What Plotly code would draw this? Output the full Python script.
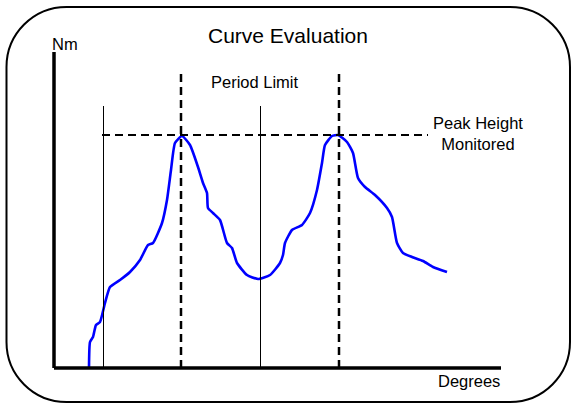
import plotly.graph_objects as go

# ---- data (degrees, Nm) ----
degrees = [35, 36, 39, 42, 46, 51, 56, 66, 76, 86, 94, 99, 108, 113, 117, 121, 128,
           136, 144, 149, 153, 154, 159, 166, 173, 178, 183, 193, 204, 216, 226, 229,
           231, 238, 248, 256, 263, 268, 271, 278, 284, 293, 299, 304, 311, 321, 333,
           338, 343, 349, 358, 369, 379, 393]
torque = [0, 26, 31, 43, 46, 65, 81, 88, 96, 108, 123, 125, 145, 168, 198, 225, 232,
          223, 201, 185, 175, 160, 155, 148, 125, 120, 105, 93, 89, 93, 105, 113,
          125, 138, 143, 155, 178, 205, 223, 232, 233, 226, 215, 190, 181, 173, 160,
          151, 125, 115, 111, 107, 101, 96]
period_limits = [49, 206]
peak_positions = [127, 285]
peak_height = 232

# ---- layout helpers (pixel -> axis units), origin at pixel (54, 368) ----
OX, OY = 54, 368
W, H = 573, 404


def px(x):
    return x - OX


def py(y):
    return OY - y


fig = go.Figure()
fig.add_trace(go.Scatter(x=degrees, y=torque, mode="lines",
                         line=dict(color="#0000ff", width=2.6, shape="spline", smoothing=0.5),
                         hoverinfo="skip", showlegend=False))

shapes = []
# axes
shapes.append(dict(type="line", x0=0, y0=0, x1=px(501), y1=0, line=dict(color="black", width=3.5)))
shapes.append(dict(type="line", x0=0, y0=0, x1=0, y1=py(52), line=dict(color="black", width=3.5)))
# period limits (thin)
for xv in period_limits:
    shapes.append(dict(type="line", x0=xv + 0.5, y0=0, x1=xv + 0.5, y1=py(106),
                       line=dict(color="black", width=1)))
# peak dashed verticals
for xv in peak_positions:
    shapes.append(dict(type="line", x0=xv, y0=0, x1=xv, y1=py(72),
                       line=dict(color="black", width=2.5, dash="8px,5px")))
# peak height dashed horizontal
shapes.append(dict(type="line", x0=px(102), y0=peak_height + 1, x1=px(428), y1=peak_height + 1,
                   line=dict(color="black", width=2, dash="8px,5px")))

# rounded frame in paper coords
L, T, R, B, r = 6.5, 7, 570, 402, 60
k = 0.5523 * r


def P(x, y):
    return f"{x / W:.5f},{1 - y / H:.5f}"


path = (f"M {P(L + r, T)} L {P(R - r, T)} "
        f"C {P(R - r + k, T)} {P(R, T + r - k)} {P(R, T + r)} "
        f"L {P(R, B - r)} "
        f"C {P(R, B - r + k)} {P(R - r + k, B)} {P(R - r, B)} "
        f"L {P(L + r, B)} "
        f"C {P(L + r - k, B)} {P(L, B - r + k)} {P(L, B - r)} "
        f"L {P(L, T + r)} "
        f"C {P(L, T + r - k)} {P(L + r - k, T)} {P(L + r, T)} Z")
shapes.append(dict(type="path", xref="paper", yref="paper", path=path,
                   line=dict(color="black", width=2)))

font = dict(family="Liberation Sans, Arial, sans-serif", color="black")
annotations = [
    dict(text="Curve Evaluation", x=px(288), y=py(35), font=dict(size=21, **font)),
    dict(text="Nm", x=px(65), y=py(44), font=dict(size=16.5, **font)),
    dict(text="Period Limit", x=px(255), y=py(82), font=dict(size=16.5, **font)),
    dict(text="Peak Height<br>Monitored", x=px(478), y=py(133), font=dict(size=16.5, **font)),
    dict(text="Degrees", x=px(469), y=py(381), font=dict(size=16.5, **font)),
]
for a in annotations:
    a.update(xref="x", yref="y", showarrow=False, xanchor="center", yanchor="middle")

fig.update_layout(
    width=W, height=H,
    margin=dict(l=0, r=0, t=0, b=0),
    paper_bgcolor="white", plot_bgcolor="white",
    xaxis=dict(range=[px(0), px(W)], visible=False, fixedrange=True),
    yaxis=dict(range=[py(H), py(0)], visible=False, fixedrange=True),
    shapes=shapes, annotations=annotations, showlegend=False,
)

fig.write_html("out.html", config={"displayModeBar": False},
               post_script="document.body.style.margin='0';document.body.style.overflow='hidden';")
